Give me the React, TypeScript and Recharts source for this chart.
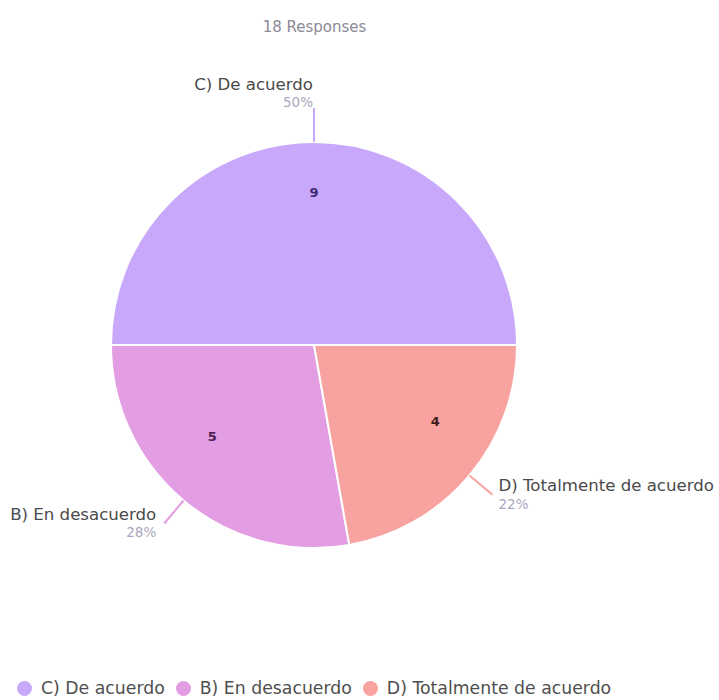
import { Cell, Legend, Pie, PieChart } from 'recharts'

const categories = ['C) De acuerdo', 'B) En desacuerdo', 'D) Totalmente de acuerdo']
const counts = [9, 5, 4]
const colors = ['#c8a8fb', '#e39de3', '#f9a3a0']
const totalLabel = '18 Responses'

const data = categories.map((name, i) => ({ name, value: counts[i], fill: colors[i] }))

const RAD = Math.PI / 180
const FONT = '"DejaVu Sans", Verdana, sans-serif'

const renderLabel = (props: any) => {
  const { cx, cy, midAngle, outerRadius, percent, name, value, index } = props
  const cos = Math.cos(-midAngle * RAD)
  const sin = Math.sin(-midAngle * RAD)
  const sx = cx + outerRadius * cos
  const sy = cy + outerRadius * sin
  const top = sin < -0.9
  const ext = top ? 34 : 30
  const ex = cx + (outerRadius + ext) * cos
  const ey = cy + (outerRadius + ext) * sin
  // count labels sit a bit higher in the lower half, like the original
  const ix = cx + outerRadius * 0.78 * cos
  const iy = cy + outerRadius * (sin < 0 ? 0.75 : 0.59) * sin
  const right = cos > 0.1
  const anchor = right ? 'start' : 'end'
  const tx = right ? ex + 6 : ex - (top ? 1 : 8)
  const nameY = top ? ey - 24 : ey - 9
  const pctY = top ? ey - 6 : ey + 9
  const pct = `${Math.round(percent * 100)}%`
  const numColors = ['#3d2a6e', '#4f2250', '#3f1d1d']

  return (
    <g>
      <text
        x={ix}
        y={iy}
        textAnchor="middle"
        dominantBaseline="central"
        fontFamily={FONT}
        fontSize={13}
        fontWeight={700}
        fill={numColors[index]}
      >
        {value}
      </text>
      <path d={`M${sx},${sy}L${ex},${ey}`} stroke={colors[index]} strokeWidth={2} fill="none" />
      <text x={tx} y={nameY} textAnchor={anchor} dominantBaseline="central" fontFamily={FONT} fontSize={16.6} fill="#4a4a4a">
        {name}
      </text>
      <text x={tx} y={pctY} textAnchor={anchor} dominantBaseline="central" fontFamily={FONT} fontSize={13.5} fill="#aaa6bf">
        {pct}
      </text>
    </g>
  )
}

const renderLegend = () => (
  <div style={{ display: 'flex', alignItems: 'center', fontFamily: FONT, fontSize: 17.3, color: '#4f4f4f' }}>
    {categories.map((name, i) => (
      <span key={name} style={{ display: 'inline-flex', alignItems: 'center', marginRight: 11 }}>
        <span
          style={{
            width: 15,
            height: 15,
            borderRadius: '50%',
            background: colors[i],
            display: 'inline-block',
            marginRight: 9,
          }}
        />
        {name}
      </span>
    ))}
  </div>
)

export default function App() {
  return (
    <div style={{ position: 'absolute', left: 0, top: 0, width: 719, height: 700, background: '#fff' }}>
      <div
        style={{
          position: 'absolute',
          top: 18,
          width: 629,
          textAlign: 'center',
          fontFamily: FONT,
          fontSize: 15,
          color: '#8a8a98',
        }}
      >
        {totalLabel}
      </div>
      <PieChart width={719} height={700} margin={{ top: 0, right: 0, bottom: 0, left: 0 }}>
        <Pie
          data={data}
          dataKey="value"
          nameKey="name"
          cx={314}
          cy={345}
          outerRadius={203}
          startAngle={0}
          endAngle={360}
          stroke="#ffffff"
          strokeWidth={2}
          label={renderLabel}
          labelLine={false}
          isAnimationActive={false}
        >
          {data.map((d) => (
            <Cell key={d.name} fill={d.fill} />
          ))}
        </Pie>
        <Legend
          content={renderLegend}
          verticalAlign="bottom"
          wrapperStyle={{ left: 17, top: 678, bottom: 'auto', width: 700 }}
        />
      </PieChart>
    </div>
  )
}
